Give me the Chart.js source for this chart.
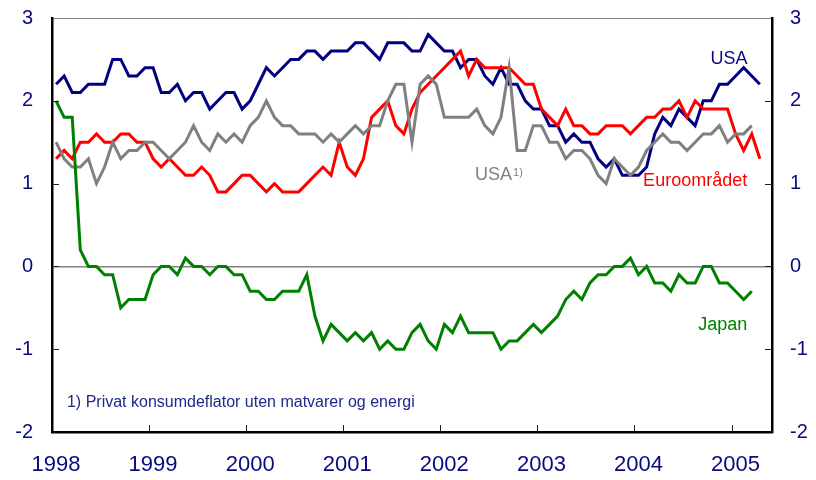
<!DOCTYPE html>
<html>
<head>
<meta charset="utf-8">
<script src="https://cdn.jsdelivr.net/npm/chart.js@4"></script>
<style>
  html, body { margin: 0; padding: 0; background: #fff; }
  #wrap { width: 816px; height: 480px; position: relative; }
</style>
</head>
<body>
<div id="wrap"><canvas id="c" width="816" height="480"></canvas></div>
<script>
/* Core inflation, 12-month change in %, monthly Jan 1998 – Apr 2005. */

// x axis: months since Jan 1998, one label per year
const years = ["1998", "1999", "2000", "2001", "2002", "2003", "2004", "2005"];
const yTicks = [-2, -1, 0, 1, 2, 3];

// USA (dark blue), Jan 1998 – Apr 2005
const usa = [
  2.2, 2.3, 2.1, 2.1, 2.2, 2.2, 2.2, 2.5, 2.5, 2.3, 2.3, 2.4,
  2.4, 2.1, 2.1, 2.2, 2.0, 2.1, 2.1, 1.9, 2.0, 2.1, 2.1, 1.9,
  2.0, 2.2, 2.4, 2.3, 2.4, 2.5, 2.5, 2.6, 2.6, 2.5, 2.6, 2.6,
  2.6, 2.7, 2.7, 2.6, 2.5, 2.7, 2.7, 2.7, 2.6, 2.6, 2.8, 2.7,
  2.6, 2.6, 2.4, 2.5, 2.5, 2.3, 2.2, 2.4, 2.2, 2.2, 2.0, 1.9,
  1.9, 1.7, 1.7, 1.5, 1.6, 1.5, 1.5, 1.3, 1.2, 1.3, 1.1, 1.1,
  1.1, 1.2, 1.6, 1.8, 1.7, 1.9, 1.8, 1.7, 2.0, 2.0, 2.2, 2.2,
  2.3, 2.4, 2.3, 2.2
];

// Euroområdet (red), Jan 1998 – Apr 2005
const euro = [
  1.3, 1.4, 1.3, 1.5, 1.5, 1.6, 1.5, 1.5, 1.6, 1.6, 1.5, 1.5,
  1.3, 1.2, 1.3, 1.2, 1.1, 1.1, 1.2, 1.1, 0.9, 0.9, 1.0, 1.1,
  1.1, 1.0, 0.9, 1.0, 0.9, 0.9, 0.9, 1.0, 1.1, 1.2, 1.1, 1.5,
  1.2, 1.1, 1.3, 1.8, 1.9, 2.0, 1.7, 1.6, 1.9, 2.1, 2.2, 2.3,
  2.4, 2.5, 2.6, 2.3, 2.5, 2.4, 2.4, 2.4, 2.4, 2.3, 2.2, 2.2,
  1.9, 1.8, 1.7, 1.9, 1.7, 1.7, 1.6, 1.6, 1.7, 1.7, 1.7, 1.6,
  1.7, 1.8, 1.8, 1.9, 1.9, 2.0, 1.8, 2.0, 1.9, 1.9, 1.9, 1.9,
  1.6, 1.4, 1.6, 1.3
];

// USA 1) private consumption deflator ex food and energy (grey), Jan 1998 – Mar 2005
const usaPce = [
  1.5, 1.3, 1.2, 1.2, 1.3, 1.0, 1.2, 1.5, 1.3, 1.4, 1.4, 1.5,
  1.5, 1.4, 1.3, 1.4, 1.5, 1.7, 1.5, 1.4, 1.6, 1.5, 1.6, 1.5,
  1.7, 1.8, 2.0, 1.8, 1.7, 1.7, 1.6, 1.6, 1.6, 1.5, 1.6, 1.5,
  1.6, 1.7, 1.6, 1.7, 1.7, 2.0, 2.2, 2.2, 1.5, 2.2, 2.3, 2.2,
  1.8, 1.8, 1.8, 1.8, 1.9, 1.7, 1.6, 1.8, 2.4, 1.4, 1.4, 1.7,
  1.7, 1.5, 1.5, 1.3, 1.4, 1.4, 1.3, 1.1, 1.0, 1.3, 1.2, 1.1,
  1.2, 1.4, 1.5, 1.6, 1.5, 1.5, 1.4, 1.5, 1.6, 1.6, 1.7, 1.5,
  1.6, 1.6, 1.7
];

// Japan (green), Jan 1998 – Mar 2005
const japan = [
  2.0, 1.8, 1.8, 0.2, 0.0, 0.0, -0.1, -0.1, -0.5, -0.4, -0.4, -0.4,
  -0.1, 0.0, 0.0, -0.1, 0.1, 0.0, 0.0, -0.1, 0.0, 0.0, -0.1, -0.1,
  -0.3, -0.3, -0.4, -0.4, -0.3, -0.3, -0.3, -0.1, -0.6, -0.9, -0.7, -0.8,
  -0.9, -0.8, -0.9, -0.8, -1.0, -0.9, -1.0, -1.0, -0.8, -0.7, -0.9, -1.0,
  -0.7, -0.8, -0.6, -0.8, -0.8, -0.8, -0.8, -1.0, -0.9, -0.9, -0.8, -0.7,
  -0.8, -0.7, -0.6, -0.4, -0.3, -0.4, -0.2, -0.1, -0.1, 0.0, 0.0, 0.1,
  -0.1, 0.0, -0.2, -0.2, -0.3, -0.1, -0.2, -0.2, 0.0, 0.0, -0.2, -0.2,
  -0.3, -0.4, -0.3
];

const NAVY = "#0a0a80";
const FONT = "Arial, 'Liberation Sans', sans-serif";

// monthly value i sits in the middle of its month
const pts = arr => arr.map((v, i) => ({ x: i + 0.5, y: v }));

// series labels, placed in data units (month index, value)
const seriesLabels = [
  { text: "USA", x: 83.7, y: 2.5, color: NAVY, align: "center" },
  { text: "Euroområdet", x: 79.5, y: 1.03, color: "#ff0000", align: "center" },
  { text: "USA", sup: "1)", x: 52.3, y: 1.1, color: "#808080", align: "left" },
  { text: "Japan", x: 82.9, y: -0.71, color: "#008000", align: "center" },
];

const decorations = {
  id: "decorations",
  afterDatasetsDraw(chart) {
    const { ctx, chartArea: a, scales: { x, y } } = chart;
    ctx.save();
    // inward tick marks on both value axes and on the time axis
    ctx.strokeStyle = "#222"; ctx.lineWidth = 1;
    ctx.beginPath();
    yTicks.slice(1, -1).forEach(v => {
      const py = Math.round(y.getPixelForValue(v)) + 0.5;
      ctx.moveTo(a.left, py); ctx.lineTo(a.left + 7, py);
      ctx.moveTo(a.right, py); ctx.lineTo(a.right - 7, py);
    });
    for (let m = 12; m < x.max; m += 12) {
      const px = Math.round(x.getPixelForValue(m)) + 0.5;
      ctx.moveTo(px, a.bottom); ctx.lineTo(px, a.bottom - 7);
    }
    ctx.stroke();

    ctx.textBaseline = "middle";
    seriesLabels.forEach(l => {
      ctx.font = "18px " + FONT;
      ctx.fillStyle = l.color;
      ctx.textAlign = l.align;
      const px = x.getPixelForValue(l.x), py = y.getPixelForValue(l.y);
      ctx.fillText(l.text, px, py);
      if (l.sup) {
        const w = ctx.measureText(l.text).width;
        ctx.font = "11px " + FONT;
        ctx.textAlign = "left";
        ctx.fillText(l.sup, px + w + 1, py - 2);
      }
    });

    ctx.font = "16px " + FONT;
    ctx.fillStyle = "#1c2a8c";
    ctx.textAlign = "left";
    ctx.fillText("1) Privat konsumdeflator uten matvarer og energi",
      x.getPixelForValue(1.85), y.getPixelForValue(-1.64));
    ctx.restore();
  },
};

const line = (label, data, color, order) => ({
  label, data: pts(data), borderColor: color, backgroundColor: color,
  borderWidth: 3, pointRadius: 0, tension: 0, order, borderJoinStyle: "miter",
});

const gridColor = c => (c.tick.value === 0 || c.tick.value === 3) ? "#808080" : "rgba(0,0,0,0)";
const gridWidth = c => c.tick.value === 0 ? 1.5 : 1;

// fixed axis sizes so the plot frame lands where the original has it
const fitY = w => s => { s.width = w; s.paddingTop = 0; s.paddingBottom = 0; };

new Chart(document.getElementById("c"), {
  type: "line",
  data: {
    datasets: [
      line("Japan", japan, "#008000", 1),
      line("USA 1)", usaPce, "#808080", 2),
      line("Euroområdet", euro, "#ff0000", 3),
      line("USA", usa, "#000080", 4),
    ],
  },
  options: {
    responsive: false, animation: false, devicePixelRatio: 1,
    layout: { padding: { top: 18, left: 0, right: 0, bottom: 0 } },
    plugins: { legend: { display: false }, tooltip: { enabled: false } },
    scales: {
      x: {
        type: "linear", min: 0, max: 89, position: "bottom",
        afterFit: s => { s.height = 48; },
        grid: { display: false, drawTicks: false },
        border: { display: true, color: "#000", width: 2.5 },
        ticks: {
          stepSize: 12, includeBounds: false, autoSkip: false, maxRotation: 0,
          padding: 20, labelOffset: 4, color: NAVY, font: { size: 22, family: FONT },
          callback: v => (v % 12 === 0 ? years[v / 12] : ""),
        },
      },
      y: {
        position: "left", min: -2, max: 3,
        afterFit: fitY(52),
        grid: { color: gridColor, lineWidth: gridWidth, drawTicks: false },
        border: { display: true, color: "#000", width: 2.5 },
        ticks: { stepSize: 1, padding: 19, color: NAVY, font: { size: 20, family: FONT } },
      },
      y2: {
        position: "right", min: -2, max: 3,
        afterFit: fitY(44),
        grid: { drawOnChartArea: false, drawTicks: false },
        border: { display: true, color: "#000", width: 2.5 },
        ticks: { stepSize: 1, padding: 18, color: NAVY, font: { size: 20, family: FONT } },
      },
    },
  },
  plugins: [decorations],
});
</script>
</body>
</html>
